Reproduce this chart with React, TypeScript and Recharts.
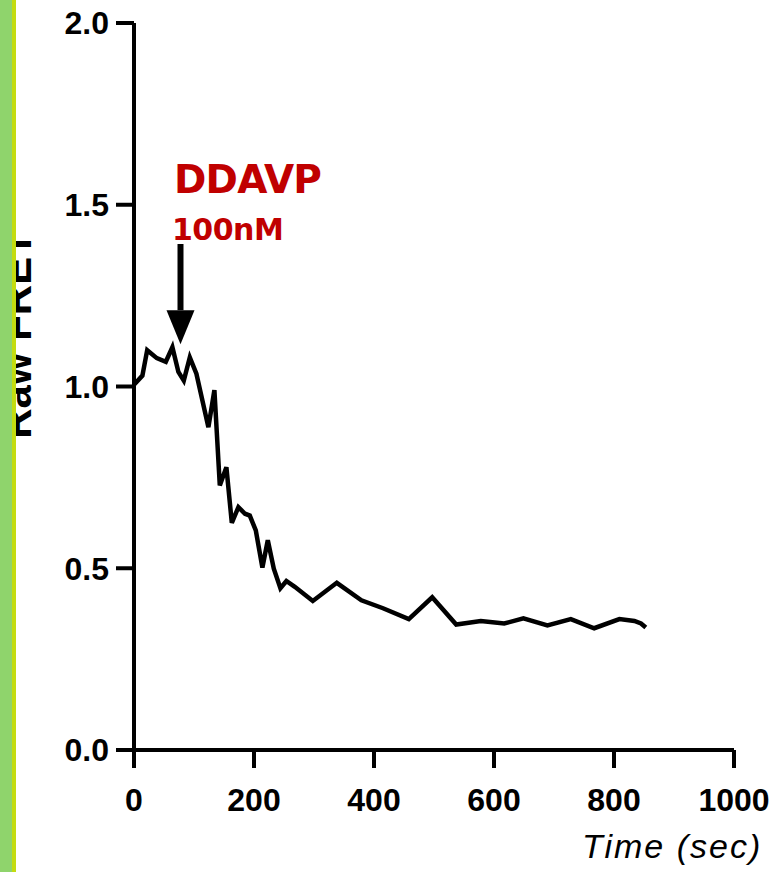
import React from "react";
import {
  LineChart,
  Line,
  XAxis,
  YAxis,
  ReferenceLine,
  ReferenceDot,
} from "recharts";

// time points (sec) and raw FRET ratio
const times = [
  0, 14, 22, 38, 53, 64, 74, 83, 93, 104, 124, 134, 143, 154, 163, 174, 185,
  193, 203, 214, 223, 233, 244, 254, 268, 298, 338, 379, 415, 458, 497, 537,
  578, 617, 649, 689, 728, 767, 809, 834, 845, 853,
];
const fret = [
  1.005, 1.03, 1.1, 1.078, 1.068, 1.108, 1.04, 1.016, 1.08, 1.035, 0.888,
  0.99, 0.728, 0.778, 0.625, 0.668, 0.65, 0.645, 0.604, 0.502, 0.577, 0.499,
  0.445, 0.465, 0.449, 0.41, 0.46, 0.412, 0.39, 0.36, 0.42, 0.345, 0.355,
  0.348, 0.362, 0.343, 0.36, 0.335, 0.36, 0.355, 0.348, 0.337,
];

const xTicks = [0, 200, 400, 600, 800, 1000];
const yTicks = [0, 0.5, 1.0, 1.5, 2.0];

// DDAVP addition marker
const addTime = 77.5;
const arrowTop = 1.392;
const arrowBase = 1.21;

const data = times.map((t, i) => ({ time: t, fret: fret[i] }));

const tickStyle = {
  fill: "#000000",
  fontSize: 32,
  fontWeight: 700,
  fontFamily: "'Liberation Sans', Arial, sans-serif",
};

const ArrowHead = (props: any) => {
  const { cx, cy } = props;
  return (
    <polygon
      points={`${cx - 14},${cy} ${cx + 14},${cy} ${cx},${cy + 34}`}
      fill="#000000"
    />
  );
};

const App = () => {
  return (
    <div
      style={{
        position: "absolute",
        top: 0,
        left: 0,
        width: 779,
        height: 872,
        background: "#ffffff",
        overflow: "hidden",
      }}
    >
      <LineChart
        width={779}
        height={872}
        data={data}
        margin={{ top: 23, right: 45, left: 0, bottom: 0 }}
      >
        <XAxis
          dataKey="time"
          type="number"
          domain={[0, 1000]}
          ticks={xTicks}
          interval={0}
          height={122}
          axisLine={{ stroke: "#000000", strokeWidth: 4 }}
          tickLine={{ stroke: "#000000", strokeWidth: 4 }}
          tickSize={18}
          tickMargin={20}
          tick={tickStyle}
        />
        <YAxis
          type="number"
          domain={[0, 2]}
          ticks={yTicks}
          interval={0}
          width={134}
          axisLine={{ stroke: "#000000", strokeWidth: 4 }}
          tickLine={{ stroke: "#000000", strokeWidth: 4 }}
          tickSize={18}
          tickMargin={7}
          tick={tickStyle}
          tickFormatter={(v: number) => v.toFixed(1)}
        />
        <ReferenceLine
          segment={[
            { x: addTime, y: arrowTop },
            { x: addTime, y: arrowBase },
          ]}
          stroke="#000000"
          strokeWidth={6}
        />
        <ReferenceDot
          x={addTime}
          y={arrowBase}
          r={0}
          shape={ArrowHead}
        />
        <Line
          type="linear"
          dataKey="fret"
          stroke="#000000"
          strokeWidth={4.5}
          strokeLinejoin="miter"
          dot={false}
          isAnimationActive={false}
        />
      </LineChart>

      <div
        style={{
          position: "absolute",
          left: 17,
          top: 335,
          transform: "translate(-50%, -50%) rotate(-90deg)",
          fontFamily: "'Liberation Sans', Arial, sans-serif",
          fontWeight: 700,
          fontSize: 42,
          lineHeight: 1,
          whiteSpace: "nowrap",
          color: "#000000",
        }}
      >
        Raw FRET
      </div>
      <div
        style={{
          position: "absolute",
          left: 0,
          top: 0,
          width: 12,
          height: 872,
          background: "#8fd46c",
        }}
      />
      <div
        style={{
          position: "absolute",
          left: 12,
          top: 0,
          width: 4,
          height: 872,
          background: "#c3dc10",
        }}
      />

      <div
        style={{
          position: "absolute",
          left: 174,
          top: 160,
          fontFamily: "'DejaVu Sans', Verdana, sans-serif",
          fontWeight: 700,
          fontSize: 39,
          letterSpacing: -0.8,
          lineHeight: 1,
          color: "#c00000",
          whiteSpace: "nowrap",
        }}
      >
        DDAVP
      </div>
      <div
        style={{
          position: "absolute",
          left: 172,
          top: 215,
          fontFamily: "'DejaVu Sans', Verdana, sans-serif",
          fontWeight: 700,
          fontSize: 30,
          letterSpacing: -0.5,
          lineHeight: 1,
          color: "#c00000",
          whiteSpace: "nowrap",
        }}
      >
        100nM
      </div>
      <div
        style={{
          position: "absolute",
          left: 582,
          top: 829,
          fontFamily: "'Liberation Sans', Arial, sans-serif",
          fontStyle: "italic",
          fontSize: 34,
          letterSpacing: 2,
          lineHeight: 1,
          color: "#000000",
          whiteSpace: "nowrap",
        }}
      >
        Time (sec)
      </div>
    </div>
  );
};

export default App;
